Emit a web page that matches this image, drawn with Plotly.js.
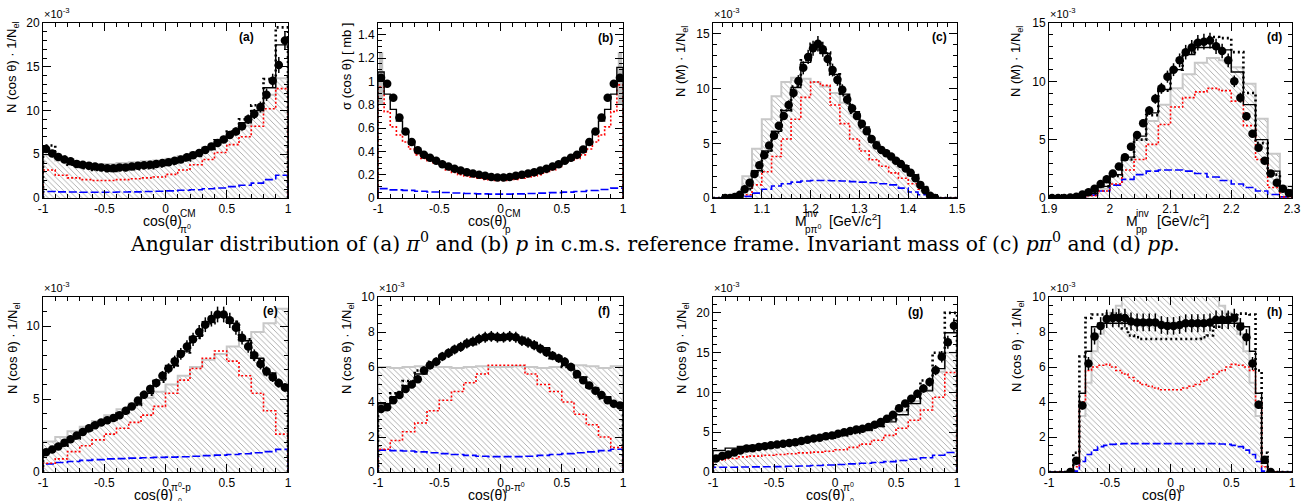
<!DOCTYPE html>
<html><head><meta charset="utf-8">
<script src="https://cdn.plot.ly/plotly-3.0.1.min.js"></script>
<style>html,body{margin:0;padding:0;background:#fff}#chart{width:1309px;height:501px}</style>
</head><body><div id="chart"></div>
<script>
// ---------------- DATA (values x10^-3 unless noted) ----------------
// (a) cos(theta) pi0 CM, data 40 bins on [-1,1], models 20 bins
const aData   = [5.6,5.1,4.7,4.4,4.2,3.9,3.8,3.7,3.6,3.5,3.4,3.4,3.5,3.5,3.6,3.7,3.75,3.8,3.9,4.0,4.1,4.25,4.4,4.65,4.9,5.15,5.5,5.9,6.3,6.7,7.2,7.6,8.2,9.0,9.6,10.4,11.8,13.4,15.2,18.0];
const aGray   = [4.9,4.3,4.0,3.9,3.9,3.9,4.0,4.1,4.2,4.3,4.5,4.8,5.2,5.8,6.5,7.3,8.3,9.8,11.8,13.7];
const aSolid  = [5.4,4.5,3.9,3.6,3.4,3.4,3.5,3.6,3.8,4.0,4.2,4.5,5.0,5.7,6.5,7.4,8.6,10.0,12.6,17.5];
const aDotted = [6.0,4.7,3.8,3.4,3.2,3.1,3.2,3.3,3.4,3.6,3.9,4.3,4.8,5.6,6.6,7.6,9.0,10.6,13.6,19.5];
const aRed    = [3.2,2.6,2.3,2.1,2.0,2.0,2.1,2.2,2.3,2.4,2.7,3.2,3.8,4.4,5.2,6.1,7.0,8.2,10.2,12.5];
const aBlue   = [0.75,0.7,0.68,0.66,0.65,0.66,0.68,0.7,0.75,0.78,0.82,0.88,0.95,1.05,1.15,1.3,1.45,1.7,2.1,2.6];

// (b) cos(theta) p CM, sigma in mb, 40 bins on [-1,1]
const bData   = [1.03,0.98,0.86,0.69,0.57,0.48,0.41,0.37,0.345,0.32,0.29,0.27,0.25,0.235,0.22,0.21,0.2,0.19,0.18,0.175,0.175,0.18,0.19,0.2,0.21,0.22,0.235,0.25,0.27,0.29,0.32,0.345,0.37,0.415,0.48,0.57,0.69,0.86,0.98,1.03];
const bSolid  = [1.08,0.89,0.76,0.66,0.56,0.46,0.4,0.36,0.33,0.31,0.29,0.27,0.25,0.235,0.22,0.21,0.2,0.19,0.185,0.18,0.18,0.185,0.19,0.2,0.21,0.22,0.235,0.25,0.27,0.29,0.31,0.33,0.36,0.4,0.46,0.56,0.66,0.76,0.89,1.12];
const bRed    = [0.95,0.74,0.61,0.54,0.48,0.42,0.37,0.34,0.32,0.3,0.27,0.24,0.22,0.2,0.19,0.18,0.17,0.16,0.155,0.15,0.15,0.155,0.16,0.17,0.18,0.19,0.2,0.22,0.24,0.27,0.3,0.32,0.34,0.37,0.42,0.48,0.54,0.61,0.74,0.97];
const bBlue   = [0.08,0.07,0.065,0.058,0.052,0.047,0.043,0.038,0.035,0.033,0.033,0.035,0.038,0.042,0.046,0.05,0.056,0.064,0.073,0.085];
const bSysX   = [-0.975, 0.975];
const bSysLow = [0.8, 0.8];
const bSysHigh= [1.25, 1.25];

// (c) M_inv p pi0 [GeV/c^2], data 44 bins on [1.02,1.46], models 25 bins on [1,1.5]
const cData   = [0,0,0.1,0.3,0.8,1.4,2.2,3.0,3.9,4.8,5.7,6.6,7.5,8.5,9.6,10.7,11.9,12.9,13.7,14.1,13.6,12.7,11.7,10.8,9.9,9.0,8.2,7.5,6.8,6.1,5.4,4.8,4.4,4.1,3.8,3.4,3.1,2.7,2.3,1.8,1.2,0.7,0.2,0];
const cGray   = [0,0,0.4,2.0,4.5,7.2,9.3,10.6,11.0,10.9,10.6,10.2,9.6,8.7,7.7,6.5,5.2,4.3,3.6,2.9,2.1,1.0,0.1,0,0];
const cSolid  = [0,0,0.1,0.9,2.5,4.3,6.1,8.0,10.1,12.4,13.9,13.2,11.3,9.5,7.9,6.5,5.1,4.3,3.6,2.9,2.1,1.0,0.1,0,0];
const cDotted = [0,0,0.1,0.8,2.4,4.2,6.0,8.0,10.2,12.6,14.1,13.3,11.3,9.4,7.8,6.4,5.1,4.3,3.6,2.9,2.1,1.0,0.1,0,0];
const cRed    = [0,0,0,0.3,1.2,2.4,3.8,5.4,7.2,9.2,10.6,10.3,8.5,6.8,5.4,4.3,3.5,2.9,2.3,1.8,1.3,0.8,0.1,0,0];
const cBlue   = [0,0,0,0.15,0.45,0.8,1.1,1.3,1.45,1.55,1.6,1.6,1.58,1.55,1.5,1.45,1.4,1.3,1.2,0.9,0.55,0.3,0.05,0,0];

// (d) M_inv pp [GeV/c^2], data 40 bins on [1.9,2.3], models 20 bins
const dData   = [0,0,0,0.05,0.1,0.3,0.5,0.8,1.2,1.6,2.1,2.7,3.5,4.4,5.4,6.4,7.5,8.5,9.4,10.4,11.0,11.8,12.5,12.9,13.3,13.4,13.5,13.0,12.6,11.8,10.0,8.6,7.0,5.5,4.3,3.2,2.1,1.3,0.8,0.4];
const dGray   = [0,0,0.05,0.3,0.8,2.0,3.3,5.0,6.6,8.0,9.4,10.6,11.6,12.0,11.8,11.2,9.8,6.8,3.8,1.0];
const dSolid  = [0,0,0.1,0.4,1.0,2.0,3.5,5.3,7.3,9.3,11.0,12.3,12.9,12.9,12.7,10.8,8.0,5.0,2.3,0.7];
const dDotted = [0,0,0.1,0.4,1.0,1.9,3.3,5.0,7.1,9.2,11.0,12.5,13.3,13.8,13.7,12.5,9.0,4.7,2.0,0.6];
const dRed    = [0,0,0,0.2,0.6,1.2,2.4,3.3,4.6,6.3,7.8,8.6,9.1,9.4,9.2,8.3,6.2,3.3,0.9,0.1];
const dBlue   = [0,0,0.05,0.25,0.6,1.1,1.6,2.0,2.3,2.4,2.4,2.3,2.1,1.8,1.5,1.2,0.9,0.6,0.3,0.1];

// (e) cos(theta) pi0-p
const eData   = [1.35,1.55,1.75,2.0,2.25,2.5,2.75,3.0,3.2,3.4,3.55,3.7,3.9,4.2,4.5,4.9,5.3,5.7,6.1,6.6,7.1,7.6,8.1,8.6,9.1,9.6,10.1,10.5,10.8,10.8,10.4,9.9,9.2,8.6,8.0,7.4,6.9,6.5,6.1,5.8];
const eGray   = [2.1,2.4,2.8,3.1,3.5,3.9,4.3,4.7,5.1,5.5,6.0,6.6,7.2,7.7,8.1,8.6,9.1,9.6,10.2,11.2];
const eSolid  = [1.45,1.85,2.35,2.85,3.3,3.6,4.0,4.6,5.4,6.3,7.3,8.3,9.3,10.3,10.8,10.2,9.0,7.8,6.8,6.0];
const eDotted = [1.4,1.8,2.3,2.8,3.25,3.6,4.0,4.6,5.3,6.2,7.2,8.2,9.2,10.2,10.7,10.3,9.1,7.7,6.7,5.9];
const eRed    = [0.6,0.9,1.4,1.8,2.2,2.6,3.0,3.4,3.9,4.5,5.4,6.3,7.1,7.8,8.3,7.6,6.6,5.4,4.2,2.6];
const eBlue   = [0.55,0.65,0.72,0.8,0.85,0.9,0.92,0.95,0.98,1.0,1.02,1.05,1.08,1.12,1.16,1.2,1.25,1.32,1.4,1.55];

// (f) cos(theta) p-pi0
const fData   = [3.6,3.7,4.1,4.4,4.75,5.0,5.3,5.8,6.1,6.3,6.6,6.8,7.0,7.15,7.35,7.45,7.6,7.7,7.75,7.7,7.7,7.75,7.7,7.5,7.4,7.25,7.05,6.85,6.65,6.5,6.3,6.0,5.6,5.25,4.95,4.65,4.4,4.1,3.9,3.8];
const fGray   = [6.0,5.95,6.0,6.05,6.0,6.0,5.95,6.0,6.05,6.0,6.0,6.05,6.0,5.95,6.0,6.05,6.1,6.05,5.95,6.05];
const fSolid  = [3.9,4.3,4.9,5.6,6.2,6.7,7.1,7.4,7.7,7.85,7.85,7.7,7.4,7.1,6.6,6.1,5.4,4.8,4.3,3.9];
const fDotted = [3.7,4.5,5.2,5.8,6.3,6.6,7.0,7.3,7.55,7.6,7.55,7.6,7.35,7.0,6.5,6.0,5.4,4.8,4.2,3.85];
const fRed    = [1.3,1.8,2.3,2.8,3.5,4.1,4.6,5.1,5.6,6.1,6.1,6.1,5.6,5.0,4.6,4.0,3.3,2.7,2.0,1.4];
const fBlue   = [1.25,1.22,1.2,1.15,1.1,1.05,1.0,0.95,0.9,0.88,0.88,0.88,0.9,0.95,1.0,1.05,1.1,1.15,1.22,1.3];

// (g) cos(theta) pi0 in pi0-p frame
const gData   = [1.7,2.0,2.2,2.45,2.7,2.95,3.0,3.15,3.25,3.35,3.45,3.55,3.65,3.75,3.9,4.05,4.2,4.3,4.5,4.6,4.8,5.0,5.15,5.35,5.45,5.65,5.95,6.3,6.7,7.2,8.0,8.6,9.2,9.85,10.5,11.3,12.8,14.5,16.3,18.4];
const gGray   = [1.9,2.4,2.9,3.2,3.4,3.6,3.8,4.0,4.2,4.5,4.8,5.1,5.4,5.9,6.6,7.6,8.9,10.3,12.6,15.0];
const gSolid  = [2.7,3.0,3.2,3.35,3.5,3.65,3.8,3.95,4.15,4.4,4.7,5.0,5.3,5.7,6.3,7.2,8.6,10.2,13.0,17.5];
const gDotted = [1.8,2.3,2.8,3.1,3.3,3.5,3.7,3.9,4.1,4.3,4.6,4.9,5.3,5.8,6.6,7.8,9.3,11.5,15.0,20.0];
const gRed    = [1.5,1.7,1.9,2.0,2.1,2.2,2.3,2.4,2.5,2.6,2.8,3.1,3.5,4.0,4.6,5.5,6.5,7.8,9.4,12.5];
const gBlue   = [0.6,0.6,0.62,0.64,0.66,0.68,0.72,0.76,0.82,0.88,0.95,1.02,1.1,1.2,1.3,1.45,1.6,1.8,2.1,2.45];

// (h) cos(theta) p in pp frame, data 34 bins on [-0.85,0.85], models 40 bins on [-1,1]
const hData   = [0,0.65,3.8,6.2,7.75,8.35,8.75,8.8,8.8,8.8,8.6,8.55,8.55,8.55,8.55,8.4,8.35,8.35,8.4,8.5,8.5,8.5,8.5,8.55,8.7,8.7,8.7,8.8,8.3,7.7,6.2,3.85,0.7,0];
const hGray   = [0,0,0,0,0.5,3.2,5.1,6.9,7.9,8.6,9.1,9.5,10.0,10.4,10.7,10.9,11.0,11.1,11.1,11.1,11.1,11.1,11.1,11.0,10.9,10.7,10.4,10.0,9.5,9.1,8.6,7.9,6.9,5.1,3.2,0.5,0,0,0,0];
const hSolid  = [0,0,0,0,0.5,4.5,6.9,8.3,8.5,8.5,8.5,8.5,8.5,8.5,8.5,8.45,8.45,8.45,8.4,8.4,8.4,8.4,8.45,8.45,8.45,8.5,8.5,8.5,8.5,8.5,8.5,8.5,8.3,6.9,4.5,0.5,0,0,0,0];
const hDotted = [0,0,0,0,1.1,6.6,8.8,9.0,9.0,9.05,9.05,9.0,8.2,7.8,7.7,7.6,7.6,7.6,7.6,7.6,7.6,7.6,7.6,7.6,7.6,7.7,7.8,8.3,8.8,9.0,9.0,9.05,9.05,9.0,5.8,1.1,0,0,0,0];
const hRed    = [0,0,0,0,0.3,4.0,5.8,6.0,6.1,6.15,6.0,5.8,5.6,5.4,5.2,5.0,4.9,4.8,4.7,4.7,4.7,4.7,4.8,4.9,5.0,5.2,5.4,5.6,5.8,6.0,6.15,6.1,6.0,5.8,4.0,0.3,0,0,0,0];
const hBlue   = [0,0,0,0,0.05,0.6,1.0,1.25,1.45,1.52,1.58,1.6,1.62,1.62,1.62,1.62,1.62,1.62,1.62,1.62,1.62,1.62,1.62,1.62,1.62,1.62,1.62,1.62,1.6,1.58,1.52,1.45,1.25,1.0,0.6,0.05,0,0,0,0];

// tick labels
const cosTickVals = [-1,-0.5,0,0.5,1];
const cosTickText = ['-1','-0.5','0','0.5','1'];
const mpiTickVals = [1,1.1,1.2,1.3,1.4,1.5];
const mpiTickText = ['1','1.1','1.2','1.3','1.4','1.5'];
const mppTickVals = [1.9,2,2.1,2.2,2.3];
const mppTickText = ['1.9','2','2.1','2.2','2.3'];

// titles
const caption = 'Angular distribution of (a) <i>π</i><sup>0</sup> and (b) <i>p</i> in c.m.s. reference frame. Invariant mass of (c) <i>pπ</i><sup>0</sup> and (d) <i>pp</i>.';
const yTitleCos = 'N (cos θ) · 1/N<sub>el</sub>';
const yTitleSigma = 'σ (cos θ) [ mb ]';
const yTitleM = 'N (M) · 1/N<sub>el</sub>';

// ---------------- DRAWING ----------------
const W = 1309, H = 501;
const px = x => x / W, py = y => 1 - y / H;
const FONT = 'Liberation Sans, Arial, sans-serif';

function centers(lo, hi, n) { const w = (hi - lo) / n; return Array.from({length: n}, (_, i) => lo + (i + 0.5) * w); }
function stepXY(lo, hi, vals) {
  const n = vals.length, w = (hi - lo) / n, x = [lo], y = [0];
  for (let i = 0; i < n; i++) { x.push(lo + i * w); y.push(vals[i]); }
  x.push(hi); y.push(vals[n - 1]); x.push(hi); y.push(0);
  return {x, y};
}
const STY = {
  gray:   {color: '#c8c8c8', width: 2},
  blue:   {color: '#0000ff', width: 1.6, dash: '8px,3px'},
  red:    {color: '#ff0000', width: 1.6, dash: '2px,2px'},
  dotted: {color: '#000000', width: 2.6, dash: '2px,3px'},
  solid:  {color: '#000000', width: 1.4}
};

const panels = [
  {k: 1, xd: [43, 288],   yd: [23, 198],  xr: [-1, 1],    yr: [0, 20],  ydt: 5,   ymin: 1,    xmin: 0.1,  tv: cosTickVals, tt: cosTickText,
   hist: [['gray', aGray, -1, 1], ['blue', aBlue, -1, 1], ['red', aRed, -1, 1], ['dotted', aDotted, -1, 1], ['solid', aSolid, -1, 1]],
   data: [aData, -1, 1], err: 6, label: '(a)', lab: [246, 37], x10: true},
  {k: 2, xd: [378, 623],  yd: [23, 198],  xr: [-1, 1],    yr: [0, 1.5], ydt: 0.2, ymin: 0.05, xmin: 0.1,  tv: cosTickVals, tt: cosTickText,
   hist: [['blue', bBlue, -1, 1], ['red', bRed, -1, 1], ['solid', bSolid, -1, 1]],
   data: [bData, -1, 1], err: 2, label: '(b)', lab: [605, 38], x10: false},
  {k: 3, xd: [713, 957],  yd: [23, 198],  xr: [1, 1.5],   yr: [0, 16],  ydt: 5,   ymin: 1,    xmin: 0.02, tv: mpiTickVals, tt: mpiTickText,
   hist: [['gray', cGray, 1, 1.5], ['blue', cBlue, 1, 1.5], ['red', cRed, 1, 1.5], ['dotted', cDotted, 1, 1.5], ['solid', cSolid, 1, 1.5]],
   data: [cData, 1.02, 1.46], err: 5, label: '(c)', lab: [939, 37], x10: true},
  {k: 4, xd: [1049, 1292], yd: [23, 198], xr: [1.9, 2.3], yr: [0, 15],  ydt: 5,   ymin: 1,    xmin: 0.02, tv: mppTickVals, tt: mppTickText,
   hist: [['gray', dGray, 1.9, 2.3], ['blue', dBlue, 1.9, 2.3], ['red', dRed, 1.9, 2.3], ['dotted', dDotted, 1.9, 2.3], ['solid', dSolid, 1.9, 2.3]],
   data: [dData, 1.9, 2.3], err: 5, label: '(d)', lab: [1274, 37], x10: true},
  {k: 5, xd: [43, 288],   yd: [297, 472], xr: [-1, 1],    yr: [0, 12],  ydt: 5,   ymin: 1,    xmin: 0.1,  tv: cosTickVals, tt: cosTickText,
   hist: [['gray', eGray, -1, 1], ['blue', eBlue, -1, 1], ['red', eRed, -1, 1], ['dotted', eDotted, -1, 1], ['solid', eSolid, -1, 1]],
   data: [eData, -1, 1], err: 5, label: '(e)', lab: [270, 311], x10: true},
  {k: 6, xd: [378, 623],  yd: [297, 472], xr: [-1, 1],    yr: [0, 10],  ydt: 2,   ymin: 0.5,  xmin: 0.1,  tv: cosTickVals, tt: cosTickText,
   hist: [['gray', fGray, -1, 1], ['blue', fBlue, -1, 1], ['red', fRed, -1, 1], ['dotted', fDotted, -1, 1], ['solid', fSolid, -1, 1]],
   data: [fData, -1, 1], err: 4, label: '(f)', lab: [604, 311], x10: true},
  {k: 7, xd: [713, 957],  yd: [297, 472], xr: [-1, 1],    yr: [0, 22],  ydt: 5,   ymin: 1,    xmin: 0.1,  tv: cosTickVals, tt: cosTickText,
   hist: [['gray', gGray, -1, 1], ['blue', gBlue, -1, 1], ['red', gRed, -1, 1], ['dotted', gDotted, -1, 1], ['solid', gSolid, -1, 1]],
   data: [gData, -1, 1], err: 5, label: '(g)', lab: [915, 312], x10: true},
  {k: 8, xd: [1049, 1292], yd: [297, 472], xr: [-1, 1],   yr: [0, 10],  ydt: 2,   ymin: 0.5,  xmin: 0.1,  tv: cosTickVals, tt: cosTickText,
   hist: [['gray', hGray, -1, 1], ['blue', hBlue, -1, 1], ['red', hRed, -1, 1], ['dotted', hDotted, -1, 1], ['solid', hSolid, -1, 1]],
   data: [hData, -0.85, 0.85], err: 6, label: '(h)', lab: [1274, 312], x10: true}
];

const traces = [], layout = {
  width: W, height: H, margin: {l: 0, r: 0, t: 0, b: 0}, showlegend: false,
  paper_bgcolor: '#fff', plot_bgcolor: 'rgba(0,0,0,0)', barmode: 'overlay',
  annotations: []
};

panels.forEach(p => {
  const xa = 'x' + p.k, ya = 'y' + p.k;
  p.hist.forEach(([st, vals, lo, hi]) => {
    const s = stepXY(lo, hi, vals);
    const t = {type: 'scatter', mode: 'lines', x: s.x, y: s.y, xaxis: xa, yaxis: ya, hoverinfo: 'skip',
               line: Object.assign({shape: 'hv'}, STY[st])};
    if (st === 'gray') {
      t.fill = 'tozeroy';
      t.fillcolor = 'rgba(255,255,255,0)';
      t.fillpattern = {shape: '\\', fgcolor: '#9c9c9c', bgcolor: 'rgba(255,255,255,0)', size: 4, solidity: 0.2};
    }
    traces.push(t);
  });
  if (p.k === 2) {
    traces.push({type: 'bar', x: bSysX, base: bSysLow, y: bSysHigh.map((h, i) => h - bSysLow[i]), width: 0.035,
                 marker: {color: 'rgba(140,140,140,0.55)', line: {width: 0}}, xaxis: xa, yaxis: ya, hoverinfo: 'skip'});
  }
  const [dv, dlo, dhi] = p.data;
  traces.push({type: 'scatter', mode: 'markers', x: centers(dlo, dhi, dv.length), y: dv, xaxis: xa, yaxis: ya,
               marker: {color: '#000', size: 8.5},
               error_y: {type: 'percent', value: p.err, color: '#000', thickness: 1.5, width: 0}, hoverinfo: 'skip'});

  const common = {showline: true, linecolor: '#000', linewidth: 1, mirror: 'allticks', ticks: 'inside', ticklen: 8,
                  tickwidth: 1, tickcolor: '#000', showgrid: false, zeroline: false, fixedrange: true,
                  tickfont: {family: FONT, size: 12, color: '#000'}};
  layout['xaxis' + p.k] = Object.assign({}, common, {
    domain: [px(p.xd[0]), px(p.xd[1])], range: p.xr, anchor: ya,
    tickmode: 'array', tickvals: p.tv, ticktext: p.tt,
    minor: {ticks: 'inside', ticklen: 4, tickmode: 'linear', tick0: p.xr[0], dtick: p.xmin, tickcolor: '#000', showgrid: false}
  });
  layout['yaxis' + p.k] = Object.assign({}, common, {
    domain: [py(p.yd[1]), py(p.yd[0])], range: p.yr, anchor: xa, dtick: p.ydt, tick0: 0,
    minor: {ticks: 'inside', ticklen: 4, dtick: p.ymin, tick0: 0, tickcolor: '#000', showgrid: false}
  });
  layout.annotations.push({xref: 'paper', yref: 'paper', x: px(p.lab[0]), y: py(p.lab[1]), text: '<b>' + p.label + '</b>',
    showarrow: false, xanchor: 'center', yanchor: 'middle', font: {family: FONT, size: 12, color: '#000'}});
  if (p.x10) layout.annotations.push({xref: 'paper', yref: 'paper', x: px(p.xd[0] - 1), y: py(p.yd[0] - 1),
    text: '×10<sup>-3</sup>', showarrow: false, xanchor: 'left', yanchor: 'bottom', font: {family: FONT, size: 11, color: '#000'}});
});

function ann(text, x, y, xanchor, size, extra) {
  layout.annotations.push(Object.assign({xref: 'paper', yref: 'paper', x: px(x), y: py(y), text, showarrow: false,
    xanchor, yanchor: 'middle', font: {family: FONT, size, color: '#000'}}, extra || {}));
}
// y-axis titles: [text, xCenter, yCenter]
const yTitles = [[yTitleCos, 13, 67], [yTitleSigma, 347, 67], [yTitleM, 682, 62], [yTitleM, 1017, 62],
                 [yTitleCos, 13, 348], [yTitleCos, 347, 348], [yTitleCos, 682, 348], [yTitleCos, 1017, 346]];
yTitles.forEach(([t, x, y]) => layout.annotations.push({xref: 'paper', yref: 'paper', x: px(x), y: py(y), text: t,
  textangle: -90, showarrow: false, xanchor: 'center', yanchor: 'middle', font: {family: FONT, size: 13, color: '#000'}}));

// x-axis titles: [main, sup, sub, rightEdgeOfMain, yCenter]
const xTitles = [
  ['cos(θ)', 'CM', 'π<sup>0</sup>', 181, 221],
  ['cos(θ)', 'CM', 'p', 506, 221],
  ['cos(θ)', 'π<sup>0</sup>-p', 'π<sup>0</sup>', 172, 495],
  ['cos(θ)', 'p-π<sup>0</sup>', 'pp', 506, 495],
  ['cos(θ)', 'π<sup>0</sup>', 'π<sup>0</sup>-p', 844, 495],
  ['cos(θ)', 'p', 'pp', 1180, 495]
];
xTitles.forEach(([m, sp, sb, P, y]) => {
  ann(m, P, y, 'right', 14, {xshift: 3});
  ann(sp, P, y - 8, 'left', 10, {xshift: -3});
  ann(sb, P, y + 8, 'left', 10, {xshift: -3});
});
// invariant mass titles
ann('M', 806, 221, 'right', 14, {xshift: 3}); ann('inv', 806, 214, 'left', 10, {xshift: -3}); ann('pπ<sup>0</sup>', 806, 229, 'left', 10, {xshift: -3});
ann('[GeV/c<sup>2</sup>]', 827, 220, 'left', 14);
ann('M', 1137, 221, 'right', 14, {xshift: 3}); ann('inv', 1137, 214, 'left', 10, {xshift: -3}); ann('pp', 1137, 229, 'left', 10, {xshift: -3});
ann('[GeV/c<sup>2</sup>]', 1155, 220, 'left', 14);

// caption
layout.annotations.push({xref: 'paper', yref: 'paper', x: px(655), y: py(243), text: caption, showarrow: false,
  xanchor: 'center', yanchor: 'middle', font: {family: 'DejaVu Serif, Liberation Serif, serif', size: 20.3, color: '#000'}});

Plotly.newPlot('chart', traces, layout, {staticPlot: true, displayModeBar: false});
</script>
</body></html>
